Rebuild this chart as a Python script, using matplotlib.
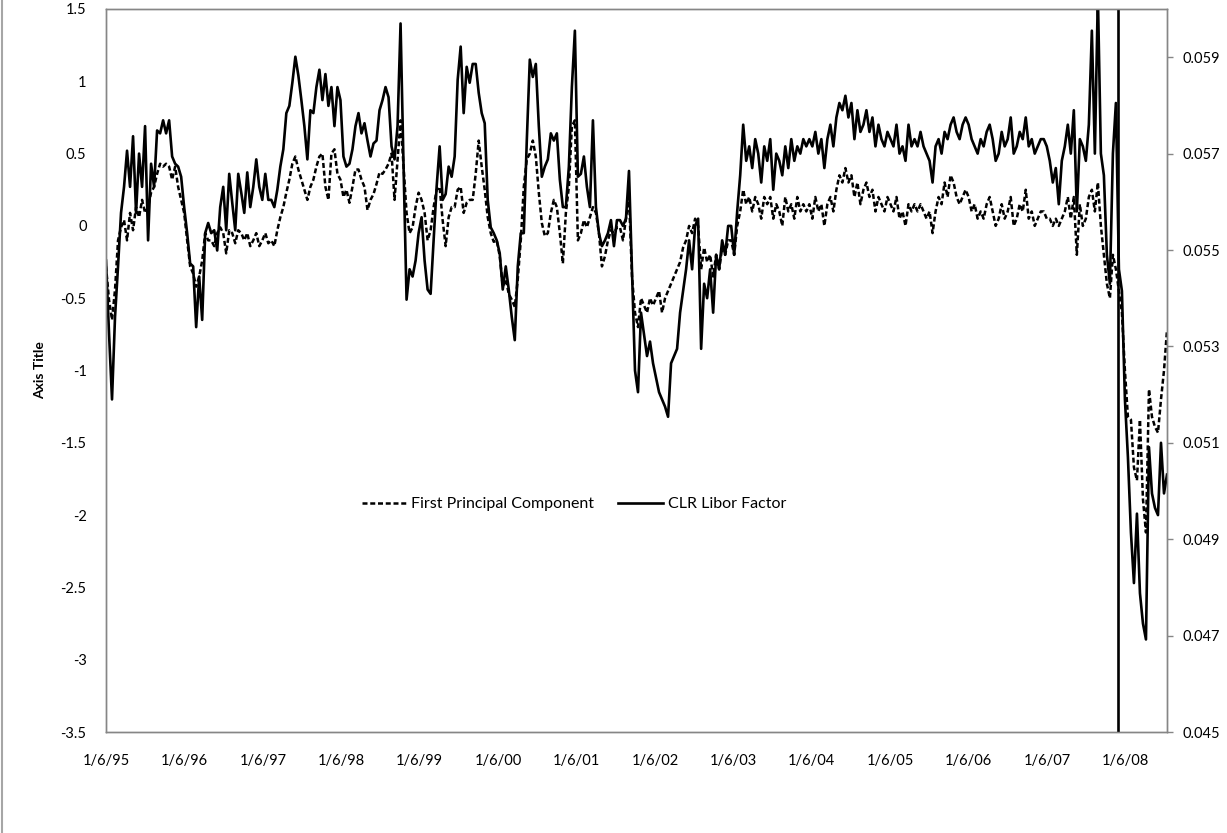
import pandas as pd
import matplotlib.pyplot as plt
from matplotlib.lines import Line2D

# biweekly observations, first one on 1/6/95
start_date = '1995-01-06'
event_date = '2007-12-01'

first_pc = [
    -0.28, -0.51, -0.65, -0.44, -0.10, -0.01, 0.04, -0.10, 0.09, -0.03, 0.13, 0.06, 0.18,
    0.09, 0.13, 0.23, 0.27, 0.36, 0.43, 0.41, 0.43, 0.41, 0.32, 0.41, 0.27, 0.18,
    0.09, -0.10, -0.28, -0.33, -0.42, -0.35, -0.24, -0.05, -0.10, -0.10, -0.14, -0.05, -0.01,
    -0.05, -0.19, -0.03, -0.05, -0.12, -0.03, -0.05, -0.10, -0.05, -0.14, -0.10, -0.05, -0.14,
    -0.10, -0.05, -0.12, -0.10, -0.14, -0.03, 0.06, 0.13, 0.23, 0.32, 0.43, 0.48, 0.39,
    0.32, 0.25, 0.18, 0.27, 0.32, 0.41, 0.48, 0.50, 0.27, 0.18, 0.50, 0.53, 0.36,
    0.32, 0.20, 0.25, 0.16, 0.27, 0.39, 0.39, 0.32, 0.27, 0.11, 0.18, 0.22, 0.29,
    0.37, 0.36, 0.39, 0.43, 0.50, 0.18, 0.46, 0.73, 0.41, 0.09, -0.05, -0.01, 0.13,
    0.23, 0.18, 0.09, -0.10, -0.03, 0.13, 0.25, 0.27, 0.04, -0.14, 0.06, 0.13, 0.13,
    0.25, 0.27, 0.09, 0.16, 0.18, 0.18, 0.36, 0.59, 0.41, 0.25, 0.06, -0.05, -0.11,
    -0.10, -0.21, -0.42, -0.37, -0.47, -0.51, -0.56, -0.37, -0.10, 0.27, 0.46, 0.50, 0.59,
    0.48, 0.23, 0.02, -0.07, -0.05, 0.09, 0.18, 0.13, -0.05, -0.26, 0.09, 0.27, 0.69,
    0.73, -0.10, -0.05, 0.04, -0.01, 0.06, 0.13, 0.09, -0.05, -0.28, -0.21, -0.10, -0.03,
    -0.05, -0.01, -0.01, -0.10, 0.05, 0.20, -0.35, -0.60, -0.70, -0.50, -0.55, -0.60, -0.50,
    -0.55, -0.50, -0.45, -0.60, -0.50, -0.45, -0.40, -0.35, -0.30, -0.25, -0.15, -0.10, 0.00,
    -0.05, 0.05, 0.00, -0.30, -0.15, -0.25, -0.20, -0.35, -0.20, -0.30, -0.15, -0.20, -0.10,
    -0.10, -0.20, 0.00, 0.10, 0.25, 0.15, 0.20, 0.10, 0.20, 0.15, 0.05, 0.20, 0.15,
    0.20, 0.05, 0.15, 0.10, 0.00, 0.20, 0.10, 0.15, 0.05, 0.20, 0.10, 0.15, 0.10,
    0.15, 0.05, 0.20, 0.10, 0.15, 0.00, 0.15, 0.20, 0.10, 0.25, 0.35, 0.30, 0.40,
    0.30, 0.35, 0.20, 0.30, 0.15, 0.25, 0.30, 0.20, 0.25, 0.10, 0.20, 0.15, 0.10,
    0.20, 0.15, 0.10, 0.20, 0.05, 0.10, 0.00, 0.15, 0.10, 0.15, 0.10, 0.15, 0.10,
    0.05, 0.10, -0.05, 0.10, 0.20, 0.15, 0.30, 0.20, 0.35, 0.30, 0.20, 0.15, 0.20,
    0.25, 0.20, 0.10, 0.15, 0.05, 0.10, 0.05, 0.15, 0.20, 0.10, 0.00, 0.05, 0.15,
    0.05, 0.10, 0.20, 0.00, 0.05, 0.15, 0.10, 0.25, 0.05, 0.10, 0.00, 0.05, 0.10,
    0.10, 0.05, 0.05, 0.00, 0.05, 0.00, 0.05, 0.10, 0.20, 0.05, 0.20, -0.20, 0.15,
    0.00, 0.05, 0.20, 0.25, 0.10, 0.30, 0.00, -0.20, -0.40, -0.50, -0.20, -0.30, -0.45,
    -0.60, -1.00, -1.32, -1.34, -1.67, -1.76, -1.34, -1.89, -2.12, -1.13, -1.32, -1.39,
    -1.43, -1.20, -1.00, -0.72,
]

clr_libor = [
    0.05478, 0.05328, 0.05190, 0.05361, 0.05466, 0.05577, 0.05631, 0.05706, 0.05631, 0.05736,
    0.05577, 0.05700, 0.05631, 0.05757, 0.05520, 0.05679, 0.05631, 0.05748, 0.05742, 0.05769,
    0.05742, 0.05769, 0.05694, 0.05679, 0.05673, 0.05652,
    0.05589, 0.05535, 0.05472, 0.05466, 0.05340, 0.05445, 0.05355, 0.05535, 0.05556, 0.05535,
    0.05541, 0.05499, 0.05589, 0.05631, 0.05541, 0.05658, 0.05598, 0.05541, 0.05658, 0.05619,
    0.05577, 0.05661, 0.05589, 0.05631, 0.05688, 0.05631,
    0.05604, 0.05658, 0.05604, 0.05604, 0.05589, 0.05625, 0.05673, 0.05709, 0.05784, 0.05799,
    0.05847, 0.05901, 0.05862, 0.05811, 0.05757, 0.05688, 0.05790, 0.05784, 0.05838, 0.05874,
    0.05811, 0.05865, 0.05799, 0.05838, 0.05757, 0.05838,
    0.05811, 0.05694, 0.05673, 0.05679, 0.05709, 0.05757, 0.05784, 0.05742, 0.05763, 0.05727,
    0.05694, 0.05721, 0.05727, 0.05790, 0.05811, 0.05838, 0.05817, 0.05715, 0.05688, 0.05757,
    0.05970, 0.05673, 0.05397, 0.05460, 0.05445, 0.05478,
    0.05535, 0.05568, 0.05478, 0.05418, 0.05409, 0.05520, 0.05631, 0.05715, 0.05604, 0.05616,
    0.05673, 0.05652, 0.05694, 0.05853, 0.05922, 0.05784, 0.05880, 0.05847, 0.05886, 0.05886,
    0.05826, 0.05784, 0.05763, 0.05604, 0.05547, 0.05535,
    0.05520, 0.05493, 0.05418, 0.05466, 0.05418, 0.05361, 0.05313, 0.05466, 0.05535, 0.05535,
    0.05727, 0.05895, 0.05859, 0.05886, 0.05757, 0.05652, 0.05673, 0.05688, 0.05742, 0.05727,
    0.05742, 0.05646, 0.05589, 0.05589, 0.05673, 0.05838,
    0.05955, 0.05652, 0.05658, 0.05694, 0.05631, 0.05589, 0.05769, 0.05589, 0.05535, 0.05508,
    0.05520, 0.05535, 0.05562, 0.05508, 0.05562, 0.05562, 0.05550, 0.05565, 0.05664, 0.05460,
    0.05250, 0.05205, 0.05370, 0.05325, 0.05280, 0.05310,
    0.05265, 0.05235, 0.05205, 0.05190, 0.05175, 0.05154, 0.05265, 0.05280, 0.05295, 0.05370,
    0.05415, 0.05460, 0.05520, 0.05460, 0.05550, 0.05565, 0.05295, 0.05430, 0.05400, 0.05460,
    0.05370, 0.05490, 0.05460, 0.05520, 0.05490, 0.05550,
    0.05550, 0.05490, 0.05580, 0.05655, 0.05760, 0.05685, 0.05715, 0.05670, 0.05730, 0.05700,
    0.05640, 0.05715, 0.05685, 0.05730, 0.05625, 0.05700, 0.05685, 0.05655, 0.05715, 0.05670,
    0.05730, 0.05685, 0.05715, 0.05700, 0.05730, 0.05715,
    0.05730, 0.05715, 0.05745, 0.05700, 0.05730, 0.05670, 0.05730, 0.05760, 0.05715, 0.05775,
    0.05805, 0.05790, 0.05820, 0.05775, 0.05805, 0.05730, 0.05790, 0.05745, 0.05760, 0.05790,
    0.05745, 0.05775, 0.05715, 0.05760, 0.05730, 0.05715,
    0.05745, 0.05730, 0.05715, 0.05760, 0.05700, 0.05715, 0.05685, 0.05760, 0.05715, 0.05730,
    0.05715, 0.05745, 0.05715, 0.05700, 0.05685, 0.05640, 0.05715, 0.05730, 0.05700, 0.05745,
    0.05730, 0.05760, 0.05775, 0.05745, 0.05730, 0.05760,
    0.05775, 0.05760, 0.05730, 0.05715, 0.05700, 0.05730, 0.05715, 0.05745, 0.05760, 0.05730,
    0.05685, 0.05700, 0.05745, 0.05715, 0.05730, 0.05775, 0.05700, 0.05715, 0.05745, 0.05730,
    0.05775, 0.05715, 0.05730, 0.05700, 0.05715, 0.05730,
    0.05730, 0.05715, 0.05685, 0.05640, 0.05670, 0.05595, 0.05685, 0.05715, 0.05760, 0.05700,
    0.05790, 0.05580, 0.05730, 0.05715, 0.05685, 0.05760, 0.05955, 0.05700, 0.06030, 0.05700,
    0.05655, 0.05490, 0.05430, 0.05700, 0.05805, 0.05460,
    0.05415, 0.05190, 0.05070, 0.04914, 0.04809, 0.04953, 0.04788, 0.04725, 0.04692, 0.05091,
    0.04995, 0.04965, 0.04950, 0.05100, 0.04995, 0.05034,
]

left_ticks = [-3.5, -3, -2.5, -2, -1.5, -1, -0.5, 0, 0.5, 1, 1.5]
left_labels = ['-3.5', '-3', '-2.5', '-2', '-1.5', '-1', '-0.5', '0', '0.5', '1', '1.5']
right_ticks = [0.045, 0.047, 0.049, 0.051, 0.053, 0.055, 0.057, 0.059]
right_labels = ['0.045', '0.047', '0.049', '0.051', '0.053', '0.055', '0.057', '0.059']
tick_years = list(range(1995, 2009))
x_labels = ['1/6/95', '1/6/96', '1/6/97', '1/6/98', '1/6/99', '1/6/00', '1/6/01',
            '1/6/02', '1/6/03', '1/6/04', '1/6/05', '1/6/06', '1/6/07', '1/6/08']

plt.rcParams['font.family'] = ['Lato', 'DejaVu Sans']
grey = '#868686'
fsize = 10.5

fig = plt.figure(figsize=(12.27, 8.33), dpi=100)
W, H = 1227, 833
ax = fig.add_axes([106 / W, 1 - 732 / H, (1167 - 106) / W, (732 - 9) / H])

dates_pc = pd.date_range(start_date, periods=len(first_pc), freq='14D')
dates_clr = pd.date_range(start_date, periods=len(clr_libor), freq='14D')

pc_line, = ax.plot(dates_pc, first_pc, color='black', lw=1.8,
                   linestyle=(0, (2.0, 1.1)), label='First Principal Component')
ax.set_ylim(-3.5, 1.5)
ax.set_yticks(left_ticks)
ax.set_yticklabels(left_labels)

ax2 = ax.twinx()
clr_line, = ax2.plot(dates_clr, clr_libor, color='black', lw=1.9,
                     label='CLR Libor Factor')
ax2.axvline(pd.Timestamp(event_date), color='black', lw=1.9)
ax2.set_ylim(0.045, 0.060)
ax2.set_yticks(right_ticks)
ax2.set_yticklabels(right_labels)

ax.set_xlim(dates_pc[0], dates_pc[-1])
ax.set_xticks([pd.Timestamp(f'{y}-01-06') for y in tick_years])
ax.set_xticklabels(x_labels)

for a in (ax, ax2):
    for sp in a.spines.values():
        sp.set_color(grey)
        sp.set_linewidth(1.0)

ax.tick_params(axis='y', length=0, pad=14, labelsize=fsize)
ax.tick_params(axis='x', length=0, pad=16, labelsize=fsize)
ax2.tick_params(axis='y', length=4, width=1, color=grey, pad=7, labelsize=fsize)

fig.text(40 / W, 1 - 370 / H, 'Axis Title', rotation=90, ha='center', va='center',
         fontsize=10, fontweight='bold')

ax2.legend([pc_line, clr_line], ['First Principal Component', 'CLR Libor Factor'],
           ncol=2, frameon=False, loc='center', bbox_to_anchor=(0.441, 0.315),
           handlelength=2.8, columnspacing=1.5, handletextpad=0.3, fontsize=11.5)

# left edge of the chart frame
fig.add_artist(Line2D([2 / W, 2 / W], [0, 1], color='#a6a6a6', lw=1.5,
                      transform=fig.transFigure))

fig.savefig('out.png', dpi=100)
